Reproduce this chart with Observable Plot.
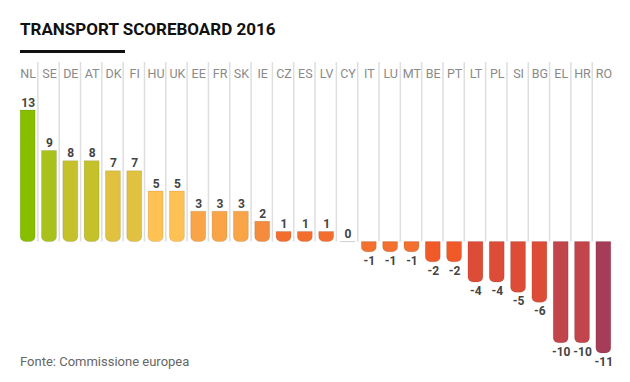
<!DOCTYPE html>
<html>
<head>
<meta charset="utf-8">
<script src="https://cdn.jsdelivr.net/npm/d3@7"></script>
<script src="https://cdn.jsdelivr.net/npm/@observablehq/plot@0.6"></script>
<style>
  html, body { margin: 0; padding: 0; background: #fff; }
  body { width: 630px; height: 382px; position: relative; overflow: hidden; font-family: Roboto, "Noto Sans", sans-serif; }
  #title { position: absolute; left: 20px; top: 19px; font-size: 17px; line-height: 20px; font-weight: 700; color: #111; white-space: nowrap; }
  #rule { position: absolute; left: 20px; top: 50px; width: 105px; height: 3px; background: #111; }
  #chart { position: absolute; left: 0; top: 58px; }
  #caption { position: absolute; left: 20px; top: 354px; font-size: 13px; line-height: 15px; color: #666; white-space: nowrap; }
</style>
</head>
<body>
<div id="title">TRANSPORT SCOREBOARD 2016</div>
<div id="rule"></div>
<div id="chart"></div>
<div id="caption">Fonte: Commissione europea</div>
<script>
const countries = ["NL","SE","DE","AT","DK","FI","HU","UK","EE","FR","SK","IE","CZ","ES","LV","CY","IT","LU","MT","BE","PT","LT","PL","SI","BG","EL","HR","RO"];
const scores = [13, 9, 8, 8, 7, 7, 5, 5, 3, 3, 3, 2, 1, 1, 1, 0, -1, -1, -1, -2, -2, -4, -4, -5, -6, -10, -10, -11];
const barColors = ["#88be00","#a8c11b","#c4c12b","#c4c12b","#e0c140","#e0c140","#fec153","#fec153","#f9a547","#f9a547","#f9a547","#f58b3c","#f36d2d","#f36d2d","#f36d2d","#f36d2d","#f3702e","#f3702e","#f3702e","#f05a28","#f05a28","#dc4c37","#dc4c37","#dc4c37","#dc4c37","#c1454a","#c1454a","#a63d58"];

const data = countries.map((c, i) => ({country: c, value: scores[i]}));
const yDomain = [-12, 17.75];

const chart = Plot.plot({
  width: 630,
  height: 320,
  marginTop: 4,
  marginBottom: 0,
  marginLeft: 0,
  marginRight: 0,
  style: {fontFamily: "Roboto, sans-serif", background: "transparent"},
  x: {type: "band", domain: countries, range: [17, 614], paddingInner: 0.3, paddingOuter: 0.15, round: false, axis: null},
  y: {domain: yDomain, range: [305, 4], axis: null},
  color: {type: "ordinal", domain: countries, range: barColors},
  marks: [
    Plot.ruleX(countries.slice(1), {x: d => d, y1: () => 0, y2: () => yDomain[1], dx: -11.6, stroke: "#dedede", strokeWidth: 1.5}),
    Plot.barY(data, {x: "country", y: "value", fill: "country", stroke: "#000", strokeOpacity: 0.1, strokeWidth: 1, ry2: 5}),
    Plot.text(data, {x: "country", text: "country", frameAnchor: "top", dy: 11.5, lineAnchor: "middle", fill: "#8a8a8a", fontSize: 12.5}),
    Plot.text(data.filter(d => d.value >= 0), {x: "country", y: "value", text: d => String(d.value),
      lineAnchor: "bottom", dy: -4, fill: "#444", fontSize: 12, fontWeight: "bold"}),
    Plot.text(data.filter(d => d.value < 0), {x: "country", y: "value", text: d => String(d.value),
      lineAnchor: "top", dy: 4, fill: "#444", fontSize: 12, fontWeight: "bold"})
  ]
});
document.getElementById("chart").appendChild(chart);
</script>
</body>
</html>
